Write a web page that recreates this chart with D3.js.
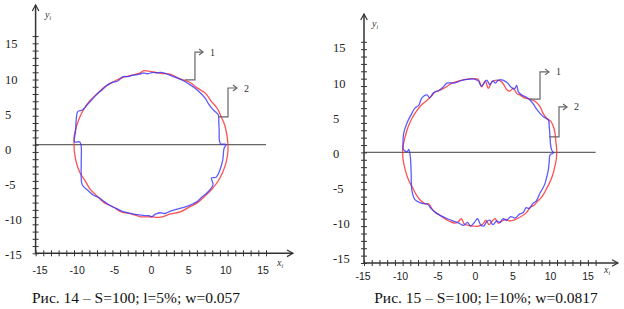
<!DOCTYPE html>
<html><head><meta charset="utf-8">
<script src="https://cdn.jsdelivr.net/npm/d3@7"></script>
<style>
body{margin:0;background:#fff}
svg{display:block}
</style></head><body>
<svg width="624" height="309"></svg>
<script>
// tick labels shared by both panels
let tickLabels = [-15, -10, -5, 0, 5, 10, 15]

// Рис. 14 — curve 1 (red) and curve 2 (blue), [x, y]
let redLeft = [[10.05,0],[9.91,1.31],[9.66,2.59],[9.19,3.81],[8.66,5.0],[7.85,6.03],[7.11,7.11],[6.03,7.85],
  [5.0,8.66],[3.77,9.1],[2.6,9.71],[1.3,9.86],[0,10.1],[-1.0,10.2],[-1.31,9.95],[-2.56,9.56],[-3.83,9.24],
  [-4.98,8.62],[-6.09,7.93],[-7.0,7.0],[-7.93,6.09],[-8.66,5.0],[-9.24,3.83],[-9.66,2.59],[-9.96,1.31],[-10,0],
  [-9.91,-1.3],[-9.66,-2.59],[-9.24,-3.83],[-8.57,-4.95],[-7.93,-6.09],[-7.04,-7.04],[-6.12,-7.97],[-4.95,-8.57],
  [-3.85,-9.28],[-2.56,-9.56],[-1.31,-9.96],[0,-9.95],[1.32,-10.01],[2.56,-9.56],[3.85,-9.28],[4.98,-8.62],
  [6.12,-7.97],[7.07,-7.07],[7.97,-6.12],[8.75,-5.05],[9.33,-3.87],[9.76,-2.61],[10.01,-1.32]]
let blueLeft = [[9.8,0.05],[9.1,0.1],[8.93,0.65],[8.9,2.0],[8.85,3.2],[8.8,4.1],[8.15,4.8],[7.6,5.5],[7.1,6.4],
  [6.5,7.1],[5.9,7.7],[5.1,8.3],[4.3,8.8],[3.5,9.2],[2.7,9.5],[2.0,9.8],[1.3,10.0],[0.8,9.9],[0.3,10.0],
  [-0.4,9.8],[-1.0,9.9],[-1.6,9.7],[-2.3,9.6],[-3.0,9.4],[-3.6,9.4],[-4.3,8.8],[-5.0,8.6],[-5.7,8.2],
  [-6.3,7.6],[-7.0,7.0],[-7.6,6.3],[-8.2,5.6],[-8.9,4.8],[-9.5,4.6],[-9.7,3.6],[-9.8,1.8],[-9.93,0.4],
  [-9.3,0.4],[-9.2,0.3],[-9.06,-0.2],[-9.06,-2.5],[-9.0,-5.3],[-8.76,-5.8],[-8.2,-6.3],[-7.5,-6.95],
  [-6.8,-7.3],[-6.0,-7.9],[-5.3,-8.4],[-4.5,-8.8],[-3.7,-9.2],[-2.9,-9.4],[-2.2,-9.6],[-1.5,-9.7],
  [-0.8,-9.8],[-0.2,-9.8],[0.1,-9.95],[0.6,-9.6],[1.2,-9.4],[1.8,-9.5],[2.5,-9.2],[3.1,-9.0],[3.8,-8.8],
  [4.5,-8.6],[5.2,-8.3],[5.97,-7.9],[6.7,-7.2],[7.28,-6.7],[8.1,-5.5],[7.9,-4.6],[8.5,-4.5],[9.0,-3.5],
  [9.37,-2.1],[9.54,-0.5]]

// Рис. 15 — curve 1 (red) and curve 2 (blue), [x, y]
let redRight = [[9.96,0.3],[9.85,1.5],[9.74,2.6],[9.5,3.6],[9.2,4.2],[8.7,4.6],[8.2,5.3],[7.8,6.2],[7.2,6.9],
  [6.6,7.2],[5.8,7.4],[5.2,7.8],[4.78,8.0],[4.34,8.7],[3.9,8.3],[3.5,8.5],[3.2,9.0],[2.8,9.6],[2.2,9.8],
  [1.6,9.6],[1.1,8.7],[0.7,9.7],[0.25,8.9],[-0.2,9.9],[-0.9,10.0],[-2.1,9.85],[-3.0,9.6],[-3.64,9.4],
  [-4.3,8.9],[-5.2,8.4],[-5.8,8.2],[-6.3,7.6],[-6.9,7.0],[-7.6,6.4],[-8.2,5.6],[-8.8,4.6],[-9.3,3.4],
  [-9.7,2.0],[-9.95,0.8],[-10.0,0],[-9.9,-1.2],[-9.6,-2.6],[-9.2,-3.8],[-8.7,-4.8],[-8.2,-5.8],[-7.6,-6.6],
  [-7.0,-7.0],[-6.6,-7.0],[-6.1,-7.8],[-5.5,-8.3],[-4.8,-8.8],[-4.0,-9.3],[-3.2,-9.6],[-2.8,-9.4],
  [-2.4,-9.0],[-2.0,-9.7],[-1.5,-9.9],[-0.8,-10.0],[-0.2,-10.0],[0.4,-9.7],[0.8,-9.2],[1.2,-9.8],
  [1.6,-9.3],[2.0,-9.0],[2.4,-9.6],[2.9,-9.3],[3.4,-9.1],[3.8,-9.3],[4.4,-9.2],[5.2,-8.8],[6.0,-8.2],
  [6.6,-7.4],[7.0,-7.2],[7.5,-6.6],[7.9,-6.2],[8.3,-5.6],[8.6,-5.0],[9.0,-4.2],[9.4,-3.2],[9.7,-2.0],
  [9.9,-1.0]]
let blueRight = [[9.52,-0.1],[9.3,0.34],[9.15,1.2],[9.1,2.14],[9.0,3.4],[8.87,4.4],[8.2,4.86],[7.8,5.3],
  [7.34,5.9],[6.9,6.6],[6.5,7.1],[6.0,7.5],[5.4,7.8],[5.0,8.2],[4.78,9.1],[4.5,8.6],[4.1,8.8],[3.6,9.4],
  [3.0,9.8],[2.4,9.8],[2.0,9.4],[1.7,9.7],[1.3,9.2],[0.9,9.8],[0.5,9.3],[0.2,9.0],[-0.2,9.7],[-0.7,9.95],
  [-1.5,9.9],[-2.2,9.8],[-2.76,9.6],[-3.4,9.4],[-4.27,9.4],[-4.7,8.9],[-5.3,8.4],[-6.0,8.1],[-6.5,7.4],
  [-6.84,7.8],[-7.5,7.4],[-7.9,6.4],[-8.4,6.0],[-8.8,5.3],[-9.43,4.0],[-9.86,2.6],[-9.95,1.2],[-9.9,0.4],
  [-9.4,0.1],[-9.2,0.4],[-9.0,-0.6],[-8.9,-2.5],[-8.8,-5.1],[-8.4,-6.4],[-7.5,-6.9],[-6.8,-7.0],
  [-6.3,-7.6],[-5.7,-8.2],[-5.0,-8.6],[-4.2,-9.0],[-3.5,-9.3],[-2.7,-9.6],[-2.1,-9.9],[-1.6,-9.5],
  [-1.2,-10.0],[-0.7,-9.5],[-0.3,-9.0],[0.1,-9.8],[0.5,-10.0],[0.9,-9.4],[1.3,-9.2],[1.7,-9.8],[2.2,-9.3],
  [2.6,-9.5],[3.0,-9.0],[3.5,-9.2],[4.0,-8.7],[4.6,-8.9],[5.1,-8.4],[5.6,-8.2],[6.0,-7.5],[6.4,-7.6],
  [6.9,-6.9],[7.3,-6.6],[7.8,-5.5],[8.1,-5.0],[8.45,-4.2],[8.7,-3.2],[8.87,-2.4],[9.0,-1.2],[9.1,-0.34]]

let svg = d3.select("svg")
let ink = "#333", gray = "#666"

let panels = [
  { red: redLeft, blue: blueLeft,
    xRange: [35.6, 266], yRange: [253.3, 36.1], xLab: [40, 263], yLab: [255, 44],
    yLabX: 5, xLabY: 270, yTip: 5, xTip: 293,
    yName: [45, 18], xName: [277, 266],
    caption: "Рис. 14 – S=100; l=5%; w=0.057", capX: 136, capY: 303,
    callouts: [{from: [4.45, 8.94], cx: 5.75, top: 12.8, to: 6.8, label: "1"},
               {from: [8.75, 3.83], cx: 10.05, top: 7.83, to: 11.22, label: "2"}] },
  { red: redRight, blue: blueRight,
    xRange: [364, 595.6], yRange: [263, 41.8], xLab: [363, 588], yLab: [259, 48],
    yLabX: 333, xLabY: 276, yTip: 14, xTip: 618,
    yName: [372, 27], xName: [604, 273], 
    caption: "Рис. 15 – S=100; l=10%; w=0.0817", capX: 486, capY: 303,
    callouts: [{from: [6.5, 7.22], cx: 7.8, top: 10.92, to: 8.96, label: "1"},
               {from: [8.96, 2.1], cx: 10.26, top: 6.17, to: 11.3, label: "2"}] }
]

let chevron = (g, pts) => g.append("polyline").attr("points", pts.join(" "))
  .attr("fill", "none").attr("stroke", ink).attr("stroke-width", 1.2)

let drawPanel = p => {
  let x = d3.scaleLinear().domain([-15, 15]).range(p.xRange)
  let y = d3.scaleLinear().domain([-15, 15]).range(p.yRange)
  let xl = d3.scaleLinear().domain([-15, 15]).range(p.xLab)
  let yl = d3.scaleLinear().domain([-15, 15]).range(p.yLab)
  let g = svg.append("g")

  // y = 0 line
  g.append("line").attr("x1", x(-15)).attr("x2", x(15)).attr("y1", y(0)).attr("y2", y(0))
    .attr("stroke", gray).attr("stroke-width", 1.2)

  // curves
  let line = d3.line().x(d => x(d[0])).y(d => y(d[1])).curve(d3.curveCatmullRomClosed.alpha(0.5))
  g.append("path").attr("d", line(p.red)).attr("fill", "none")
    .attr("stroke", "#ff3333").attr("stroke-width", 1.3).attr("opacity", 0.85)
  g.append("path").attr("d", line(p.blue)).attr("fill", "none")
    .attr("stroke", "#3333ff").attr("stroke-width", 1.3).attr("opacity", 0.8)

  // axes with crossing ticks
  let yAxisG = g.append("g").attr("transform", `translate(${x(-15)},0)`)
    .call(d3.axisLeft(y).tickValues(d3.range(-15, 16)).tickSize(3).tickFormat(""))
  let xAxisG = g.append("g").attr("transform", `translate(0,${y(-15)})`)
    .call(d3.axisBottom(x).tickValues(d3.range(-15, 16)).tickSize(3).tickFormat(""))
  yAxisG.select(".domain").remove()
  xAxisG.select(".domain").remove()
  yAxisG.selectAll(".tick line").attr("x1", 3).attr("stroke", ink)
  xAxisG.selectAll(".tick line").attr("y1", -3).attr("stroke", ink)

  g.append("line").attr("x1", x(-15)).attr("x2", x(-15)).attr("y1", y(-15)).attr("y2", p.yTip)
    .attr("stroke", ink).attr("stroke-width", 1.5)
  g.append("line").attr("x1", x(-15)).attr("x2", p.xTip).attr("y1", y(-15)).attr("y2", y(-15))
    .attr("stroke", ink).attr("stroke-width", 1.5)
  chevron(g, [[x(-15) - 3.3, p.yTip + 6], [x(-15), p.yTip], [x(-15) + 3.3, p.yTip + 6]])
  chevron(g, [[p.xTip - 6, y(-15) - 3.3], [p.xTip, y(-15)], [p.xTip - 6, y(-15) + 3.3]])

  // tick labels
  g.selectAll(".ylab").data(tickLabels).join("text")
    .attr("x", p.yLabX).attr("y", d => yl(d)).attr("dy", "0.35em")
    .attr("font-family", "Liberation Serif, serif").attr("font-size", 12.5).attr("fill", "#222")
    .text(d => d)
  g.selectAll(".xlab").data(tickLabels).join("text")
    .attr("x", d => xl(d)).attr("y", p.xLabY).attr("dy", "0.35em").attr("text-anchor", "middle")
    .attr("font-family", "Liberation Sans, sans-serif").attr("font-size", 10.5).attr("fill", "#222")
    .text(d => d)

  // axis names
  let yn = g.append("text").attr("x", p.yName[0]).attr("y", p.yName[1])
    .attr("font-family", "Liberation Serif, serif").attr("font-style", "italic").attr("font-size", 10).attr("fill", "#333")
  yn.append("tspan").text("y")
  yn.append("tspan").attr("dy", 2).attr("font-size", 6).text("i")
  let xn = g.append("text").attr("x", p.xName[0]).attr("y", p.xName[1])
    .attr("font-family", "Liberation Serif, serif").attr("font-style", "italic").attr("font-size", 10).attr("fill", "#333")
  xn.append("tspan").text("x")
  xn.append("tspan").attr("dy", 2).attr("font-size", 6).text("i")

  // callouts
  p.callouts.forEach(c => {
    let pts = [[x(c.from[0]), y(c.from[1])], [x(c.cx), y(c.from[1])], [x(c.cx), y(c.top)], [x(c.to), y(c.top)]]
    g.append("polyline").attr("points", pts.join(" ")).attr("fill", "none")
      .attr("stroke", gray).attr("stroke-width", 1.2)
    g.append("polyline").attr("points", [[x(c.to) - 4, y(c.top) - 3], [x(c.to), y(c.top)], [x(c.to) - 4, y(c.top) + 3]].join(" "))
      .attr("fill", "none").attr("stroke", gray).attr("stroke-width", 1.2)
    g.append("text").attr("x", x(c.to) + 7).attr("y", y(c.top)).attr("dy", "0.35em")
      .attr("font-family", "Liberation Serif, serif").attr("font-size", 10).attr("fill", "#333")
      .text(c.label)
  })

  // caption
  g.append("text").attr("x", p.capX).attr("y", p.capY).attr("text-anchor", "middle")
    .attr("font-family", "Liberation Serif, serif").attr("font-size", 15.5).attr("fill", "#111")
    .text(p.caption)
}

panels.forEach(drawPanel)
</script>
</body></html>
